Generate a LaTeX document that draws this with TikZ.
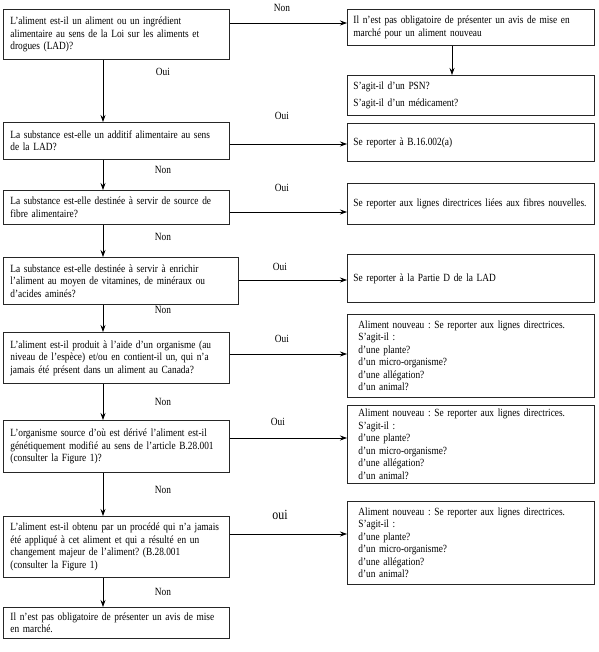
\documentclass[tikz,border=0pt]{standalone}
\usepackage{fontspec}
\setmainfont{Liberation Serif}[FakeStretch=0.85,WordSpace=0.6]
\frenchspacing
\usetikzlibrary{arrows.meta, positioning, shadows}
\tikzstyle{arrow} = [line width=0.7pt, ->, >={Stealth[length=7pt,width=5pt]}]
\tikzstyle{question} = [rectangle, draw=black!85, fill=white, line width=0.8pt, drop shadow={shadow xshift=0.8pt, shadow yshift=-0.8pt, fill=black!35}, anchor=north west, minimum width=226pt, text width=212pt, inner xsep=7pt, inner ysep=2pt, align=left, font=\fontsize{11}{12.5}\selectfont]
\tikzstyle{answer} = [question, minimum width=247pt, text width=235pt, inner xsep=6pt]
\tikzstyle{lbl} = [font=\fontsize{11}{12}\selectfont, inner sep=0pt]

\begin{document}
\begin{tikzpicture}[x=1pt, y=-1pt]
\useasboundingbox (0,0) rectangle (598,652);

% Questions (left column)
\node (q1) [question, minimum height=50pt] at (3,9) {L'aliment est-il un aliment ou un ingrédient\\ alimentaire au sens de la Loi sur les aliments et\\ drogues (LAD)?};
\node (q2) [question, minimum height=37pt] at (3,122) {La substance est-elle un additif alimentaire au sens\\ de la LAD?};
\node (q3) [question, minimum height=34pt] at (3,190) {La substance est-elle destinée à servir de source de\\ fibre alimentaire?};
\node (q4) [question, minimum height=47pt, minimum width=235pt, text width=221pt] at (3,257) {La substance est-elle destinée à servir à enrichir\\ l'aliment au moyen de vitamines, de minéraux ou\\ d'acides aminés?};
\node (q5) [question, minimum height=51pt] at (3,332) {L'aliment est-il produit à l'aide d'un organisme (au\\ niveau de l'espèce) et/ou en contient-il un, qui n'a\\ jamais été présent dans un aliment au Canada?};
\node (q6) [question, minimum height=52pt] at (3,420) {L'organisme source d'où est dérivé l'aliment est-il\\ génétiquement modifié au sens de l'article B.28.001\\ (consulter la Figure 1)?};
\node (q7) [question, minimum height=61pt] at (3,516) {L'aliment est-il obtenu par un procédé qui n'a jamais\\ été appliqué à cet aliment et qui a résulté en un\\ changement majeur de l'aliment? (B.28.001\\ (consulter la Figure 1)};
\node (q8) [question, minimum height=31pt] at (3,607) {Il n'est pas obligatoire de présenter un avis de mise\\ en marché.};

% Answers (right column)
\node (r1) [answer, minimum height=36pt] at (347,9) {Il n'est pas obligatoire de présenter un avis de mise en\\ marché pour un aliment nouveau};
\node (r2) [answer, minimum height=40pt] at (347,75) {S'agit-il d'un PSN?\\[4pt] S'agit-il d'un médicament?};
\node (r3) [answer, minimum height=38pt] at (347,123) {Se reporter à B.16.002(a)};
\node (r4) [answer, minimum height=41pt] at (347,183) {Se reporter aux lignes directrices liées aux fibres nouvelles.};
\node (r5) [answer, minimum height=48pt] at (347,254) {Se reporter à la Partie D de la LAD};
\node (r6) [answer, minimum height=83pt, inner xsep=11pt, text width=225pt] at (347,314) {Aliment nouveau : Se reporter aux lignes directrices.\\ S'agit-il :\\ d'une plante?\\ d'un micro-organisme?\\ d'une allégation?\\ d'un animal?};
\node (r7) [answer, minimum height=78pt, inner xsep=11pt, text width=225pt] at (347,405) {Aliment nouveau : Se reporter aux lignes directrices.\\ S'agit-il :\\ d'une plante?\\ d'un micro-organisme?\\ d'une allégation?\\ d'un animal?};
\node (r8) [answer, minimum height=83pt, inner xsep=11pt, text width=225pt] at (347,501) {Aliment nouveau : Se reporter aux lignes directrices.\\ S'agit-il :\\ d'une plante?\\ d'un micro-organisme?\\ d'une allégation?\\ d'un animal?};

% Connectors
\draw [arrow] ([yshift=-14pt]q1.north east) -- ([yshift=-14pt]q1.north east -| r1.west);
\draw [arrow] ([xshift=105pt]r1.south west) -- ([xshift=105pt]r2.north west);
\draw [arrow] ([xshift=100pt]q1.south west) -- ([xshift=100pt]q2.north west);
\draw [arrow] ([yshift=-22pt]q2.north east) -- ([yshift=-22pt]q2.north east -| r3.west);
\draw [arrow] ([xshift=100pt]q2.south west) -- ([xshift=100pt]q3.north west);
\draw [arrow] ([yshift=-22pt]q3.north east) -- ([yshift=-22pt]q3.north east -| r4.west);
\draw [arrow] ([xshift=100pt]q3.south west) -- ([xshift=100pt]q4.north west);
\draw [arrow] ([yshift=-23pt]q4.north east) -- ([yshift=-23pt]q4.north east -| r5.west);
\draw [arrow] ([xshift=100pt]q4.south west) -- ([xshift=100pt]q5.north west);
\draw [arrow] ([yshift=-22pt]q5.north east) -- ([yshift=-22pt]q5.north east -| r6.west);
\draw [arrow] ([xshift=100pt]q5.south west) -- ([xshift=100pt]q6.north west);
\draw [arrow] ([yshift=-18pt]q6.north east) -- ([yshift=-18pt]q6.north east -| r7.west);
\draw [arrow] ([xshift=100pt]q6.south west) -- ([xshift=100pt]q7.north west);
\draw [arrow] ([yshift=-18pt]q7.north east) -- ([yshift=-18pt]q7.north east -| r8.west);
\draw [arrow] ([xshift=100pt]q7.south west) -- ([xshift=100pt]q8.north west);

% Labels
\node (non1) [lbl] at (282,8) {Non};
\node (oui1) [lbl] at (163,72) {Oui};
\node (oui2) [lbl] at (282,116) {Oui};
\node (non2) [lbl] at (163,170) {Non};
\node (oui3) [lbl] at (282,188) {Oui};
\node (non3) [lbl] at (163,237) {Non};
\node (oui4) [lbl] at (280,267) {Oui};
\node (non4) [lbl] at (163,310) {Non};
\node (oui5) [lbl] at (282,339) {Oui};
\node (non5) [lbl] at (163,402) {Non};
\node (oui6) [lbl] at (278,422) {Oui};
\node (non6) [lbl] at (163,490) {Non};
\node (oui7) [lbl, font=\fontsize{14}{14}\selectfont] at (280,515) {oui};
\node (non7) [lbl] at (163,592) {Non};

\end{tikzpicture}
\end{document}
